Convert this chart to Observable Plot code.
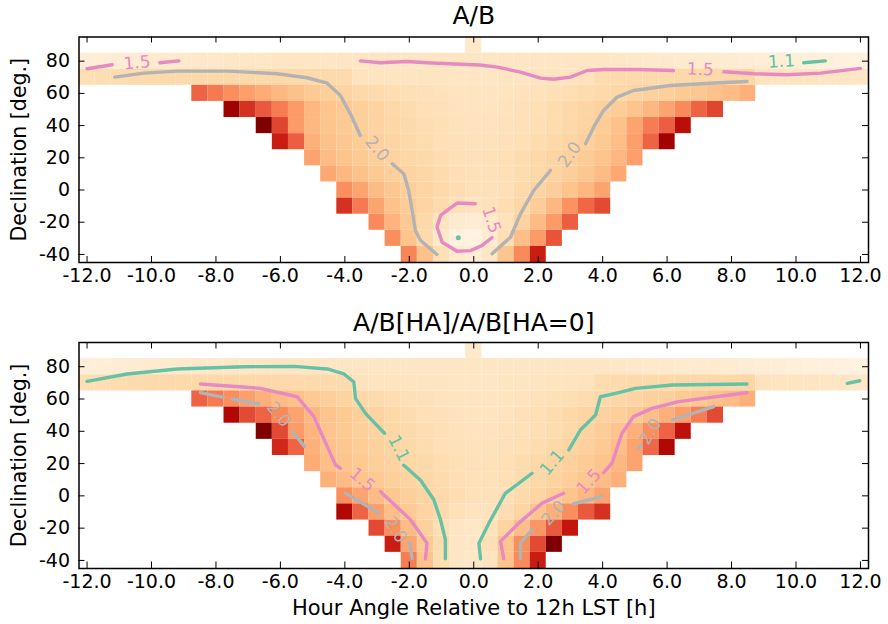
<!DOCTYPE html>
<html><head><meta charset="utf-8">
<script src="https://cdn.jsdelivr.net/npm/d3@7"></script>
<script src="https://cdn.jsdelivr.net/npm/@observablehq/plot@0.6"></script>
<style>body{margin:0;background:#fff;} #chart svg{display:block;}</style>
</head><body><div id="chart"></div>
<script>
// ---------- grid layout ----------
const decRows = [90, 80, 70, 60, 50, 40, 30, 20, 10, 0, -10, -20, -30, -40];
const rowFirstHA = [0, -12, -12, -8.5, -7.5, -6.5, -6, -5, -4.5, -4, -4, -3, -2.5, -2];
const xTicks = [-12, -10, -8, -6, -4, -2, 0, 2, 4, 6, 8, 10, 12];
const yTicks = [-40, -20, 0, 20, 40, 60, 80];
const titles = ["A/B", "A/B[HA]/A/B[HA=0]"];
const xLabel = "Hour Angle Relative to 12h LST [h]";
const yLabel = "Declination [deg.]";

// ---------- panel 1 : A/B cell values ----------
const ab90 = [1.45];
const ab80 = [1.28,1.3,1.33,1.36,1.39,1.42,1.45,1.47,1.48,1.5, 1.5,1.5,1.52,1.52,1.53,1.53,1.54,1.54,1.55,1.55,
  1.55,1.55,1.55,1.55,1.55,1.55,1.55,1.55,1.55,1.55, 1.54,1.53,1.52,1.5,1.48,1.46,1.44,1.42,1.4,1.38,
  1.35,1.32,1.3,1.28,1.26,1.24,1.22,1.2,1.18];
const ab70 = [1.75,1.78,1.8,1.82,1.84,1.85,1.86,1.87,1.88,1.88,1.88,1.88,1.87,1.86,1.85,1.84,1.82,
  1.62,1.6,1.6,1.58,1.57,1.56,1.55,1.55,1.55,1.56,1.57,1.58,1.6,1.6,1.62,
  1.8,1.82,1.84,1.85,1.86,1.87,1.88,1.89,1.9,1.92, 1.62,1.6,1.58,1.56,1.54,1.52,1.5];
const ab60 = [3.5,3.25,3.0,2.8,2.65,2.5,2.35,2.2,2.1,2.0, 1.9,1.82,1.76,1.7,1.66,1.62,1.6,1.58,1.58,1.6,
  1.62,1.65,1.7,1.75,1.8,1.86,1.92,1.98,2.04,2.1, 2.2,2.25,2.35,2.45,2.6];
const ab50 = [4.7,4.0,3.6,3.2,2.85,2.5,2.3,2.2,2.1,2.0, 1.9,1.8,1.72,1.66,1.62,1.6,1.6,1.62,1.66,1.72,
  1.8,1.88,1.95,2.05,2.15,2.3,2.5,2.75,3.05,3.5,3.8];
const ab40 = [5.0,3.8,2.85,2.5,2.3,2.2,2.1,2.0,1.92,1.84, 1.76,1.7,1.65,1.62,1.62,1.64,1.68,1.74,1.8,1.88,
  2.0,2.15,2.35,2.75,3.2,3.55,4.4];
const ab30 = [4.2,3.55,2.6,2.35,2.25,2.15,2.05,1.95,1.87,1.8, 1.72,1.67,1.64,1.64,1.67,1.72,1.8,1.88,1.96,2.06,
  2.2,2.4,2.8,3.5,4.65];
const ab20 = [2.75,2.45,2.3,2.2,2.1,2.0,1.92,1.84,1.76,1.7, 1.66,1.68,1.72,1.8,1.88,1.96,2.06,2.18,2.3,2.5,2.8];
const ab10 = [2.7,2.5,2.35,2.2,2.1,2.0,1.92,1.82,1.74,1.68, 1.68,1.72,1.8,1.9,2.0,2.12,2.25,2.45,2.7];
const ab00 = [3.0,2.75,2.45,2.25,2.1,1.98,1.86,1.76,1.68,1.66,1.72,1.84,1.98,2.12,2.3,2.5,2.75];
const abM10 = [4.0,3.25,2.75,2.35,2.15,1.98,1.82,1.68,1.6,1.65,1.78,1.92,2.15,2.5,2.95,3.45,3.75];
const abM20 = [3.05,2.55,2.2,1.88,1.6,1.4,1.33,1.45,1.65,2.0,2.45,2.85,3.55];
const abM30 = [3.0,2.3,1.85,1.45,1.2,1.15,1.35,1.75,2.4,2.85,3.65];
const abM40 = [3.1,2.35,1.7,1.4,1.3,1.5,2.3,3.05,4.2];

// ---------- panel 2 : A/B[HA]/A/B[HA=0] cell values ----------
const nr90 = [1.45];
const nr80 = ab80.slice();
const nr70 = ab70.slice();
const nr60 = [3.5,3.25,3.0,2.8,2.6,2.45,2.35,2.2,2.1,2.0, 1.9,1.82,1.76,1.7,1.66,1.62,1.6,1.58,1.58,1.6,
  1.62,1.65,1.7,1.75,1.8,1.86,1.92,1.98,2.04,2.1, 2.2,2.25,2.35,2.45,2.6];
const nr50 = [4.5,3.75,3.5,3.05,2.75,2.5,2.3,2.2,2.1,2.0, 1.9,1.8,1.72,1.66,1.62,1.6,1.6,1.62,1.66,1.72,
  1.8,1.88,1.95,2.02,2.1,2.22,2.4,2.6,2.8,3.2,3.75];
const nr40 = [5.0,3.75,2.85,2.55,2.3,2.2,2.1,2.0,1.92,1.84, 1.76,1.7,1.65,1.62,1.62,1.64,1.68,1.74,1.8,1.88,
  2.0,2.15,2.3,2.6,3.0,3.5,4.35];
const nr30 = [4.1,3.5,2.6,2.35,2.25,2.15,2.05,1.95,1.87,1.8, 1.72,1.67,1.64,1.64,1.67,1.72,1.8,1.88,1.96,2.06,
  2.2,2.4,2.75,3.45,4.5];
const nr20 = [2.65,2.4,2.3,2.2,2.1,2.0,1.92,1.84,1.76,1.7, 1.66,1.68,1.72,1.8,1.88,1.96,2.06,2.18,2.3,2.5,2.75];
const nr10 = [2.6,2.45,2.3,2.2,2.1,2.0,1.92,1.82,1.74,1.68, 1.68,1.72,1.8,1.9,2.0,2.12,2.25,2.45,2.6];
const nr00 = [3.0,2.75,2.45,2.25,2.1,1.98,1.86,1.76,1.68,1.66,1.72,1.84,1.98,2.12,2.3,2.5,2.75];
const nrM10 = [4.5,3.5,2.8,2.4,2.2,1.98,1.82,1.68,1.62,1.65,1.78,1.95,2.3,2.6,3.0,3.6,4.0];
const nrM20 = [3.75,3.0,2.45,2.05,1.72,1.55,1.5,1.65,2.0,2.4,2.9,3.6,4.3];
const nrM30 = [4.2,2.75,2.2,1.8,1.55,1.5,1.7,2.3,3.0,3.75,5.0];
const nrM40 = [3.2,2.3,1.75,1.55,1.5,1.6,2.3,3.05,4.2];

// ---------- contour lines [HA, Dec, segment] ----------
const ab_c15 = [
  [-12.0,75.3,0],[-11.22,77.8,0],
  [-9.74,79.0,1],[-9.15,80.2,1],
  [-3.52,80.2,2],[-2.9,79.0,2],[-2.07,79.8,2],[-1.45,79.0,2],[-0.41,78.1,2],[0.2,77.6,2],[0.73,76.3,2],[1.45,73.2,2],[2.07,69.5,2],[2.48,68.8,2],[3.0,70.1,2],[3.52,74.2,2],[4.03,74.8,2],[5.07,74.8,2],[6.2,74.2,2],
  [7.76,73.4,3],[8.69,72.2,3],[9.72,71.6,3],[10.76,72.6,3],[12.0,75.5,3],
  [0.57,-29.5,4],[0.25,-34.5,4],[-0.1,-37.6,4],[-0.52,-38.0,4],[-0.98,-32.4,4],[-1.14,-23.0,4],[-1.03,-15.8,4],[-0.52,-8.1,4],[0.05,-8.5,4]
];
const ab_c20 = [
  [-11.14,70.1,0],[-10.24,72.6,0],[-9.2,73.8,0],[-7.65,73.8,0],[-6.1,72.2,0],[-5.17,69.7,0],[-4.55,66.3,0],[-4.14,58.7,0],[-3.83,47.3,0],[-3.52,33.9,0],
  [-2.53,16.3,1],[-2.17,10.1,1],[-2.02,-0.3,1],[-1.91,-12.7,1],[-1.81,-25.1,1],[-1.65,-31.3,1],[-1.14,-40.0,1],
  [0.57,-39.6,2],[1.14,-29.3,2],[1.45,-14.8,2],[1.86,-0.3,2],[2.38,12.2,2],
  [3.47,28.7,3],[3.72,39.0,3],[4.03,49.4,3],[4.45,57.7,3],[4.96,61.8,3],[6.1,64.9,3],[7.34,66.3,3],[8.48,67.4,3]
];
const ab_c11 = [[10.24,79.0,0],[10.91,80.2,0]];
const ab_c11Dot = [[-0.48,-29.6]];

const nr_c11 = [
  [-12.0,70.9,0],[-10.76,75.5,0],[-9.2,78.6,0],[-7.14,80.0,0],[-5.58,80.2,0],[-4.55,78.6,0],[-4.03,75.5,0],[-3.72,70.5,0],[-3.67,60.4,0],[-3.36,51.1,0],[-2.77,38.8,0],
  [-2.17,19.0,1],[-1.65,9.7,1],[-1.24,-2.4,1],[-1.03,-14.8,1],[-0.88,-27.2,1],[-0.88,-39.0,1],
  [0.21,-39.0,2],[0.16,-29.3,2],[0.47,-16.9,2],[0.98,1.6,2],[1.81,14.0,2],
  [2.95,28.5,3],[3.31,40.8,3],[3.78,50.1,3],[3.93,61.4,3],[4.4,63.5,3],[5.02,66.6,3],[6.16,68.7,3],[8.48,69.3,3],
  [11.59,69.7,4],[11.98,71.3,4]
];
const nr_c15 = [
  [-8.48,69.3,0],[-6.62,66.6,0],[-5.48,61.4,0],[-4.96,49.1,0],[-4.5,28.5,0],[-4.29,19.2,0],[-4.14,17.1,0],
  [-2.9,2.7,1],[-1.96,-14.8,1],[-1.45,-29.3,1],[-1.5,-39.0,1],
  [0.93,-39.0,2],[0.83,-28.2,2],[1.4,-16.9,2],[2.12,-4.5,2],[2.79,1.6,2],
  [4.03,14.4,3],[4.29,20.2,3],[4.6,38.8,3],[4.96,49.1,3],[5.53,54.2,3],[6.36,58.4,3],[8.48,63.9,3]
];
const nr_c20 = [
  [-8.48,64.0,0],[-7.76,61.0,0],
  [-7.5,60.0,1],[-6.67,56.9,1],
  [-5.63,39.8,2],[-5.25,30.5,2],
  [-3.98,1.7,3],[-2.95,-10.7,3],
  [-1.99,-28.8,4],[-1.91,-39.0,4],
  [1.45,-39.0,5],[1.45,-29.3,5],[1.81,-21.0,5],
  [3.1,-4.9,6],[3.98,-0.4,6],
  [5.12,29.8,7],[5.2,31.3,7],
  [6.16,47.0,8],[7.45,55.3,8]
];

// ---------- contour labels ----------
const abLabelText = ["1.5", "1.5", "1.1", "2.0", "2.0", "1.5"];
const abLabelHA   = [-10.45, 7.03, 9.55, -3.0, 2.98, 0.55];
const abLabelDec  = [79.0, 74.8, 79.8, 25.6, 22.0, -18.5];
const abLabelRot  = [-5, 2, -3, 50, -55, 72];
const nrLabelText = ["1.1", "1.1", "1.5", "1.5", "2.0", "2.0", "2.0", "2.0"];
const nrLabelHA   = [-2.33, 2.43, -3.46, 3.57, -6.05, -2.43, 2.48, 5.48];
const nrLabelDec  = [29.5, 20.6, 9.9, 8.9, 50.5, -21.0, -10.7, 39.8];
const nrLabelRot  = [63, -50, 40, -48, 50, 58, -48, -60];

const levelColor = {"1.1": "#66c2a5", "1.5": "#e78ac3", "2.0": "#b3b3b3"};

// ---------- builders ----------
function buildCells(rows) {
  const out = [];
  rows.forEach((vals, i) => {
    vals.forEach((v, j) => {
      if (v == null) return;
      out.push({ha: rowFirstHA[i] + 0.5 * j, dec: decRows[i], v});
    });
  });
  return out;
}
const abCells = buildCells([ab90, ab80, ab70, ab60, ab50, ab40, ab30, ab20, ab10, ab00, abM10, abM20, abM30, abM40]);
const nrCells = buildCells([nr90, nr80, nr70, nr60, nr50, nr40, nr30, nr20, nr10, nr00, nrM10, nrM20, nrM30, nrM40]);

const W = 888, ML = 78.5, MR = 20;
const frameW = W - ML - MR;
const frameH = 225.5;

function panel({cells, lines, dots, labels, title, height, marginTop, marginBottom, titleDy, showXLabel}) {
  const marks = [
    Plot.rect(cells, {x1: d => d.ha - 0.25, x2: d => d.ha + 0.25, y1: d => d.dec - 5, y2: d => d.dec + 5, fill: "v"})
  ];
  for (const [lvl, pts] of lines) {
    marks.push(Plot.line(pts, {x: d => d[0], y: d => d[1], z: d => d[2], stroke: levelColor[lvl], strokeWidth: 3.4, curve: "linear"}));
  }
  for (const [lvl, pts] of dots) {
    marks.push(Plot.dot(pts, {x: d => d[0], y: d => d[1], r: 2.5, fill: levelColor[lvl], stroke: null}));
  }
  for (const lvl of Object.keys(levelColor)) {
    const idx = labels.text.map((t, i) => i).filter(i => labels.text[i] === lvl);
    marks.push(Plot.text(idx, {x: i => labels.ha[i], y: i => labels.dec[i], text: i => labels.text[i], rotate: i => labels.rot[i],
      fill: levelColor[lvl], fontSize: 17, textAnchor: "middle", lineAnchor: "middle"}));
  }
  marks.push(
    Plot.frame({stroke: "black", strokeWidth: 1.5}),
    Plot.tickX(xTicks, {x: d => d, insetTop: frameH - 6, stroke: "black", strokeWidth: 1}),
    Plot.tickX(xTicks, {x: d => d, insetBottom: frameH - 6, stroke: "black", strokeWidth: 1}),
    Plot.tickY(yTicks, {y: d => d, insetRight: frameW - 6, stroke: "black", strokeWidth: 1}),
    Plot.tickY(yTicks, {y: d => d, insetLeft: frameW - 6, stroke: "black", strokeWidth: 1}),
    Plot.axisX(xTicks, {tickSize: 0, tickPadding: 6, tickFormat: d => d.toFixed(1), fontSize: 19, fill: "black", label: null}),
    Plot.axisY(yTicks, {tickSize: 0, tickPadding: 9, tickFormat: d => String(d), fontSize: 19, fill: "black", label: null}),
    Plot.text([title], {text: d => d, frameAnchor: "top", dy: titleDy, fontSize: 25, fill: "black", lineAnchor: "middle"}),
    Plot.text([yLabel], {text: d => d, frameAnchor: "left", dx: -60, rotate: -90, fontSize: 20.5, fill: "black", lineAnchor: "middle", textAnchor: "middle"})
  );
  if (showXLabel) {
    marks.push(Plot.text([xLabel], {text: d => d, frameAnchor: "bottom", dy: 40, fontSize: 21, fill: "black", lineAnchor: "middle"}));
  }
  return Plot.plot({
    width: W, height, marginLeft: ML, marginRight: MR, marginTop, marginBottom,
    style: {fontFamily: "DejaVu Sans", fontSize: "19px", background: "white", overflow: "visible", color: "black"},
    x: {domain: [-12.25, 12.25], label: null},
    y: {domain: [-45, 95], label: null},
    color: {type: "linear", scheme: "OrRd", domain: [1, 5], clamp: true},
    marks
  });
}

const chart = document.getElementById("chart");
chart.appendChild(panel({
  cells: abCells,
  lines: [["1.5", ab_c15], ["2.0", ab_c20], ["1.1", ab_c11]],
  dots: [["1.1", ab_c11Dot]],
  labels: {text: abLabelText, ha: abLabelHA, dec: abLabelDec, rot: abLabelRot},
  title: titles[0], height: 306, marginTop: 36.5, marginBottom: 44, titleDy: -21.5, showXLabel: false
}));
chart.appendChild(panel({
  cells: nrCells,
  lines: [["1.1", nr_c11], ["1.5", nr_c15], ["2.0", nr_c20]],
  dots: [],
  labels: {text: nrLabelText, ha: nrLabelHA, dec: nrLabelDec, rot: nrLabelRot},
  title: titles[1], height: 318, marginTop: 36, marginBottom: 56, titleDy: -20, showXLabel: true
}));
</script>
</body></html>
